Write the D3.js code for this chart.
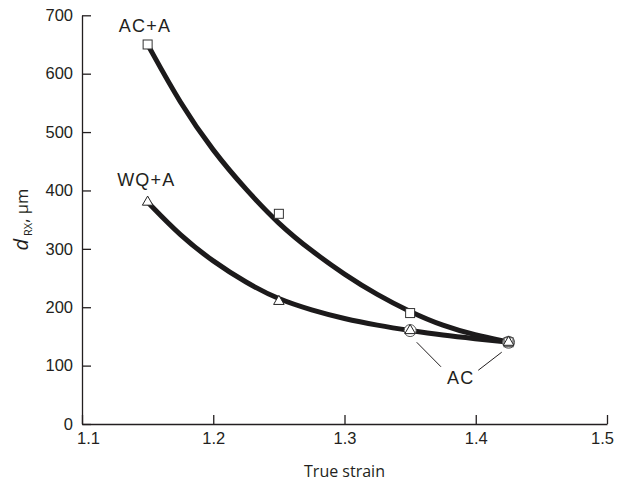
<!DOCTYPE html>
<html>
  <head>
	<title>Grain size vs true strain</title>
	<script src="https://d3js.org/d3.v7.min.js"></script>
	<style>
		body { margin: 0; background: white; }
		.axis text {
			font: 16.5px "Liberation Sans", Arial, sans-serif;
			fill: #231f20;
		}
		.axis path,
		.axis line {
			fill: none;
			stroke: #231f20;
			stroke-width: 1.3;
		}
		.fit {
			fill: none;
			stroke: #1c1a1b;
			stroke-width: 5;
		}
		.note {
			font: 18px "Liberation Sans", Arial, sans-serif;
			letter-spacing: 1.2px;
			fill: #231f20;
		}
	</style>
  </head>
  <body>
	<svg id="chart" width="617" height="484"></svg>
	<script type="text/javascript">
		// measured points
		var strain = [1.15, 1.25, 1.35, 1.425];
		var acaValues = [650, 360, 190, 140];   // AC+A, squares
		var wqaValues = [380, 210, 160, 140];   // WQ+A, triangles
		var acStrain = [1.35, 1.425];
		var acValues = [160, 140];              // AC, circles

		// fitted curves
		var acaFitStrain = [1.15, 1.175, 1.2, 1.225, 1.25, 1.275, 1.3, 1.325, 1.35, 1.375, 1.4, 1.422];
		var acaFitValues = [650, 548, 467, 401, 342, 296, 256, 221, 192, 168, 152, 142];
		var wqaFitStrain = [1.15, 1.175, 1.2, 1.225, 1.25, 1.275, 1.3, 1.325, 1.35, 1.375, 1.4, 1.422];
		var wqaFitValues = [380, 322, 278, 242, 213, 195, 180, 169, 160, 152, 146, 141];

		var xTicks = [1.1, 1.2, 1.3, 1.4, 1.5];
		var yTicks = [0, 100, 200, 300, 400, 500, 600, 700];

		var svg = d3.select("#chart");

		var xScale = d3.scaleLinear().domain([1.1, 1.5]).range([82, 607]);
		var yScale = d3.scaleLinear().domain([0, 700]).range([424, 15.3]);

		var xAxis = svg.append("g")
			.attr("class", "axis")
			.attr("transform", "translate(0," + yScale(0) + ")")
			.call(d3.axisBottom(xScale)
				.tickValues(xTicks)
				.tickFormat(d3.format(".1f"))
				.tickSizeInner(-9)
				.tickSizeOuter(0)
				.tickPadding(8));
		// first and last labels are nudged inward in the original
		xAxis.selectAll(".tick text")
			.attr("dx", function(d, i) { return i === 0 ? 6 : (i === xTicks.length - 1 ? -5 : 0); });

		svg.append("g")
			.attr("class", "axis")
			.attr("transform", "translate(" + xScale(1.1) + ",0)")
			.call(d3.axisLeft(yScale)
				.tickValues(yTicks)
				.tickSizeInner(-9)
				.tickSizeOuter(0)
				.tickPadding(9));

		svg.append("text")
			.attr("x", xScale(1.3))
			.attr("y", 477)
			.attr("text-anchor", "middle")
			.style("font", "16px 'Open Sans', sans-serif")
			.style("fill", "#231f20")
			.text("True strain");

		var yTitle = svg.append("text")
			.attr("transform", "translate(28," + yScale(350) + ") rotate(-90)")
			.attr("text-anchor", "middle")
			.style("font", "16.5px 'Open Sans', sans-serif")
			.style("fill", "#231f20");
		yTitle.append("tspan").style("font-style", "italic").style("font-size", "20px").text("d");
		yTitle.append("tspan").attr("dy", 4).style("font-size", "11px").text(" RX");
		yTitle.append("tspan").attr("dy", -4).text(", \u00b5m");

		var line = d3.line()
			.x(function(d) { return xScale(d[0]); })
			.y(function(d) { return yScale(d[1]); })
			.curve(d3.curveBasis);

		svg.append("path")
			.attr("class", "fit")
			.attr("d", line(d3.zip(acaFitStrain, acaFitValues)));
		svg.append("path")
			.attr("class", "fit")
			.attr("d", line(d3.zip(wqaFitStrain, wqaFitValues)));

		// leader lines and labels, in data units
		var leaders = [
			[[1.355, 140], [1.3735, 98]],
			[[1.4198, 123], [1.4019, 92]]
		];
		svg.selectAll(".leader")
			.data(leaders)
			.enter().append("line")
			.attr("class", "leader")
			.attr("x1", function(d) { return xScale(d[0][0]); })
			.attr("y1", function(d) { return yScale(d[0][1]); })
			.attr("x2", function(d) { return xScale(d[1][0]); })
			.attr("y2", function(d) { return yScale(d[1][1]); })
			.attr("stroke", "#231f20")
			.attr("stroke-width", 1);

		var notes = [
			{ text: "AC+A", x: 1.148, y: 671 },
			{ text: "WQ+A", x: 1.149, y: 408 },
			{ text: "AC", x: 1.3886, y: 68 }
		];
		svg.selectAll(".note")
			.data(notes)
			.enter().append("text")
			.attr("class", "note")
			.attr("x", function(d) { return xScale(d.x); })
			.attr("y", function(d) { return yScale(d.y); })
			.attr("text-anchor", "middle")
			.text(function(d) { return d.text; });

		// markers
		svg.selectAll(".ac")
			.data(d3.zip(acStrain, acValues))
			.enter().append("circle")
			.attr("class", "ac")
			.attr("cx", function(d) { return xScale(d[0]); })
			.attr("cy", function(d) { return yScale(d[1]); })
			.attr("r", 6)
			.attr("fill", "white")
			.attr("stroke", "#555")
			.attr("stroke-width", 1);

		svg.selectAll(".aca")
			.data(d3.zip(strain, acaValues))
			.enter().append("rect")
			.attr("class", "aca")
			.attr("x", function(d) { return xScale(d[0]) - 4.5; })
			.attr("y", function(d) { return yScale(d[1]) - 4.5; })
			.attr("width", 9)
			.attr("height", 9)
			.attr("fill", "white")
			.attr("stroke", "#333")
			.attr("stroke-width", 1);

		var triangle = d3.symbol().type(d3.symbolTriangle).size(48);
		svg.selectAll(".wqa")
			.data(d3.zip(strain, wqaValues))
			.enter().append("path")
			.attr("class", "wqa")
			.attr("transform", function(d) { return "translate(" + xScale(d[0]) + "," + yScale(d[1]) + ")"; })
			.attr("d", triangle)
			.attr("fill", "white")
			.attr("stroke", "#222")
			.attr("stroke-width", 1);
	</script>
  </body>
</html>
